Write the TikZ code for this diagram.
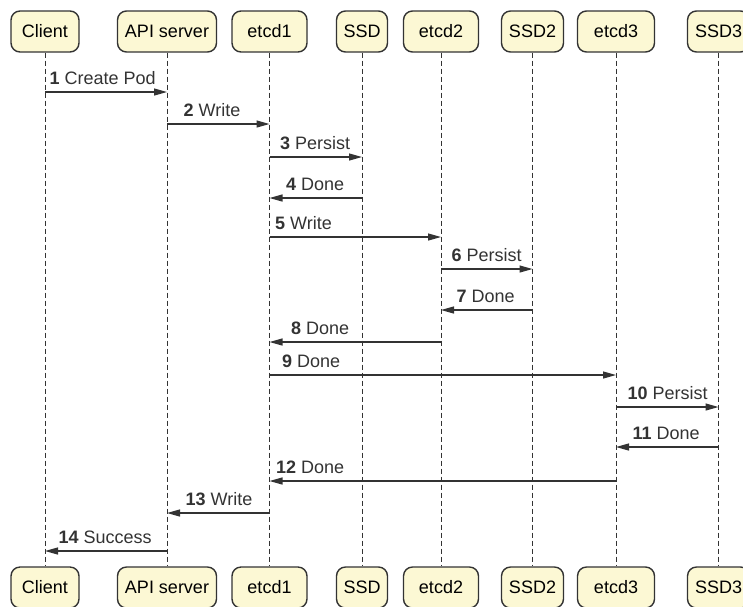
\documentclass[tikz,border=0pt]{standalone}
\usepackage{fontspec}
\setmainfont{Liberation Sans}
\usetikzlibrary{arrows.meta}
\definecolor{boxfill}{HTML}{FCF8D4}
\definecolor{ink}{HTML}{333333}

\begin{document}
\begin{tikzpicture}[x=1pt, y=-1pt, font=\fontsize{18}{21}\selectfont,
  actor/.style={draw=ink, line width=1.4pt, fill=boxfill, rounded corners=9pt,
    minimum height=41pt, inner xsep=7pt},
  life/.style={ink, line width=0.9pt, dash pattern=on 5pt off 3pt},
  msg/.style={-{Triangle[length=13pt, width=7pt]}, ink, line width=1.2pt},
  lbl/.style={anchor=base west, yshift=8pt, inner sep=0pt}]
  \useasboundingbox (0,0) rectangle (743,606);
  % Participants (top)
  \node[actor, minimum width=68pt] (client) at (45,31.5) {Client};
  \node[actor, minimum width=99pt] (api) at (167,31.5) {API server};
  \node[actor, minimum width=75pt] (etcd1) at (269.5,31.5) {etcd1};
  \node[actor, minimum width=51pt] (ssd) at (362,31.5) {SSD};
  \node[actor, minimum width=75pt] (etcd2) at (441,31.5) {etcd2};
  \node[actor, minimum width=62pt] (ssd2) at (532.5,31.5) {SSD2};
  \node[actor, minimum width=77pt] (etcd3) at (616,31.5) {etcd3};
  \node[actor, minimum width=62pt] (ssd3) at (718.5,31.5) {SSD3};
  % Participants (bottom)
  \node[actor, minimum width=68pt] (client-b) at (45,587.5) {Client};
  \node[actor, minimum width=99pt] (api-b) at (167,587.5) {API server};
  \node[actor, minimum width=75pt] (etcd1-b) at (269.5,587.5) {etcd1};
  \node[actor, minimum width=51pt] (ssd-b) at (362,587.5) {SSD};
  \node[actor, minimum width=75pt] (etcd2-b) at (441,587.5) {etcd2};
  \node[actor, minimum width=62pt] (ssd2-b) at (532.5,587.5) {SSD2};
  \node[actor, minimum width=77pt] (etcd3-b) at (616,587.5) {etcd3};
  \node[actor, minimum width=62pt] (ssd3-b) at (718.5,587.5) {SSD3};
  % Lifelines
  \draw[life] (client) -- (client-b);
  \draw[life] (api) -- (api-b);
  \draw[life] (etcd1) -- (etcd1-b);
  \draw[life] (ssd) -- (ssd-b);
  \draw[life] (etcd2) -- (etcd2-b);
  \draw[life] (ssd2) -- (ssd2-b);
  \draw[life] (etcd3) -- (etcd3-b);
  \draw[life] (ssd3) -- (ssd3-b);
  % Message rows
  \foreach \n/\y in {1/92, 2/124, 3/157, 4/198, 5/237, 6/269, 7/310,
                     8/342, 9/375, 10/407, 11/447, 12/481, 13/513, 14/551}
    \coordinate (m\n) at (0,\y);
  % Messages
  \draw[msg] (client |- m1) -- (api |- m1)
    node[lbl, pos=0, xshift=4pt] (l1) {\textbf{1} Create Pod};
  \draw[msg] (api |- m2) -- (etcd1 |- m2)
    node[lbl, pos=0, xshift=16pt] (l2) {\textbf{2} Write};
  \draw[msg] (etcd1 |- m3) -- (ssd |- m3)
    node[lbl, pos=0, xshift=10pt] (l3) {\textbf{3} Persist};
  \draw[msg] (ssd |- m4) -- (etcd1 |- m4)
    node[lbl, pos=1, xshift=16pt] (l4) {\textbf{4} Done};
  \draw[msg] (etcd1 |- m5) -- (etcd2 |- m5)
    node[lbl, pos=0, xshift=5pt] (l5) {\textbf{5} Write};
  \draw[msg] (etcd2 |- m6) -- (ssd2 |- m6)
    node[lbl, pos=0, xshift=10pt] (l6) {\textbf{6} Persist};
  \draw[msg] (ssd2 |- m7) -- (etcd2 |- m7)
    node[lbl, pos=1, xshift=15pt] (l7) {\textbf{7} Done};
  \draw[msg] (etcd2 |- m8) -- (etcd1 |- m8)
    node[lbl, pos=1, xshift=21pt] (l8) {\textbf{8} Done};
  \draw[msg] (etcd1 |- m9) -- (etcd3 |- m9)
    node[lbl, pos=0, xshift=12pt] (l9) {\textbf{9} Done};
  \draw[msg] (etcd3 |- m10) -- (ssd3 |- m10)
    node[lbl, pos=0, xshift=11pt] (l10) {\textbf{10} Persist};
  \draw[msg] (ssd3 |- m11) -- (etcd3 |- m11)
    node[lbl, pos=1, xshift=16pt] (l11) {\textbf{11} Done};
  \draw[msg] (etcd3 |- m12) -- (etcd1 |- m12)
    node[lbl, pos=1, xshift=6pt] (l12) {\textbf{12} Done};
  \draw[msg] (etcd1 |- m13) -- (api |- m13)
    node[lbl, pos=1, xshift=18pt] (l13) {\textbf{13} Write};
  \draw[msg] (api |- m14) -- (client |- m14)
    node[lbl, pos=1, xshift=13pt] (l14) {\textbf{14} Success};
\end{tikzpicture}
\end{document}
